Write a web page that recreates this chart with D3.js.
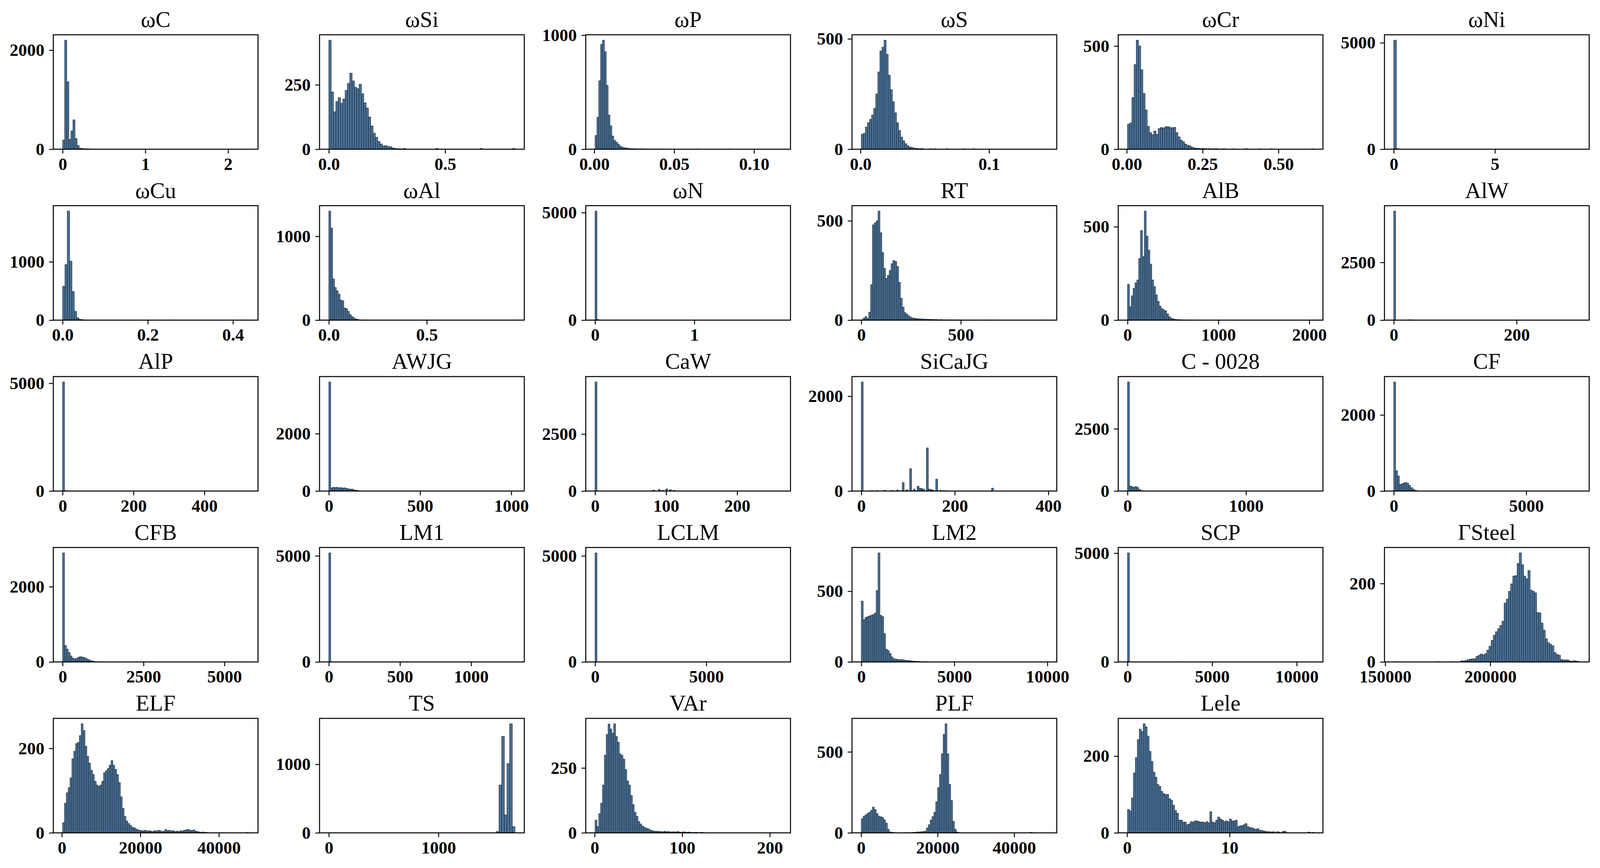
<!DOCTYPE html>
<html><head><meta charset="utf-8">
<script src="https://cdn.jsdelivr.net/npm/d3@7"></script>
<style>html,body{margin:0;padding:0;background:#fff;overflow:hidden;width:100%;height:100%;} svg{display:block;position:absolute;left:0;top:0;width:100vw;height:100vh;}</style>
</head><body>
<svg id="c" viewBox="0 0 4142 2222" preserveAspectRatio="none"></svg>
<script>
// ---------------- DATA ----------------
const titles = ["ωC","ωSi","ωP","ωS","ωCr","ωNi",
  "ωCu","ωAl","ωN","RT","AlB","AlW",
  "AlP","AWJG","CaW","SiCaJG","C - 0028","CF",
  "CFB","LM1","LCLM","LM2","SCP","ΓSteel",
  "ELF","TS","VAr","PLF","Lele"];

// data min / max of each variable and number of histogram bins
const binLo = [0,0,0.0005,0.0006,0.0026,0,
  0,0,0,0,0,0,
  0,0,0,0,0,0,
  0,0,0,0,0,154060,
  200,0,0.5,55,0.04];
const binHi = [2.25,0.8,0.117,0.1454,0.616,9.2,
  0.437,0.95,1.875,935,2048,303,
  525,1020,262,398,1570,7024,
  5750,1308,8365,10000,11000,242630,
  47600,1698,213,48700,18.2];
const binCount = [90,80,100,90,85,70,
  80,100,100,100,100,100,
  100,100,100,100,100,100,
  100,100,100,100,100,86,
  100,70,100,100,95];

// index of the first bin in each dense count list
const countStart = [0,0,0,0,0,0, 0,0,0,0,0,0, 0,0,0,0,0,0, 0,0,0,0,0,31, 0,0,0,0,0];

// dense bin counts (consecutive bins)
const counts = [
  [184,2200,1362,200,370,592,215,75,22,14,9,10,7,5,3,4,2,2],
  [423,222,145,185,200,178,195,228,255,295,265,240,235,252,215,180,160,125,90,62,46,30,20,13,14,10,10,5,3,2,2,1],
  [120,280,600,920,956,855,560,300,205,115,78,62,45,28,18,14,11,9,6,5,5,4,4,3,3,4,3,2,3,2,2,3,2,2,1,2,2,1,2,1,2,1,2],
  [68,72,100,120,135,155,185,250,350,445,462,494,430,335,270,215,165,120,85,55,38,25,16,10,8,5,4,3,3],
  [121,127,250,410,528,500,385,270,190,110,80,70,88,72,100,105,103,108,110,105,104,106,80,60,44,36,25,19,16,10,6,5,4,3,4,3,2,3,2,2,3,2,1,2,2],
  [5120,30,5],
  [580,950,1868,1010,490,150,40,15,8,4,2],
  [1300,1098,491,389,350,310,240,231,145,137,105,66,43,27,14,8,5,3,2,2,1],
  [5070,30,5],
  [2,10,18,8,40,178,480,490,500,549,440,340,260,210,225,250,284,300,295,270,190,110,65,38,30,22,15,11,10,8,7,6,6,5,5,4,4,4,3,3,3,2,3,2,2,2,1,2,1,1,2,1,1,1,0,1,1,0,1,0,1,0,0,1,0,0,0,1,0,1,1],
  [192,72,130,170,200,215,330,480,340,584,450,375,300,215,180,135,100,75,62,55,50,33,18,10,7,4,3,3,2,2,2,1,1,0,1],
  [4720],
  [5060,20],
  [3800,110,130,120,130,110,120,100,110,90,80,60,70,40,30,20,10,5,3,2],
  [4780],
  [2300],
  [4380,200,170,150,180,140,60,20,10,4,2],
  [2866,532,395,172,189,210,223,206,150,90,51,20,8,3,2],
  [2898,435,340,250,160,100,80,90,120,140,130,120,95,70,50,30,20,10,5,3,2],
  [5140,10],
  [5140],
  [430,300,315,320,325,330,335,345,505,771,330,320,200,90,80,60,35,23,20,18,15,17,15,12,10,10,8,6,5,5,4,3,2,2,1,1],
  [5010],
  [3,2,4,6,7,8,8,14,17,20,18,21,30,40,55,68,77,85,93,104,150,160,180,199,219,220,251,278,248,219,212,233,183,180,176,126,125,99,81,59,49,45,41,24,19,17,6,5,5,5,2,2,3,2,1],
  [24,70,95,107,130,175,193,211,214,230,258,242,205,181,165,148,138,122,113,110,113,122,142,147,152,160,171,160,150,138,119,85,58,39,28,22,18,13,12,9,7,6,5,5,6,4,5,4,3,5,4,6,5,3,4,8,5,6,4,5,3,4,3,5,4,6,7,8,6,5,7,4,3,2,1,2,1,1],
  [1],
  [49,24,74,114,184,299,379,419,400,384,420,371,349,304,299,284,244,200,184,144,109,79,64,44,34,26,21,18,16,11,9,7,6,6,5,5,4,6,4,5,3,4,4,3,5,3,2,4,3,2,3,2,1,2,2,1,1,2],
  [87,103,111,120,127,139,159,143,119,103,99,95,80,60,22,6,3,2,1,0,0,1,0,1,0,2,1,2,3,4,6,5,7,8,10,30,50,79,100,127,191,279,360,488,608,673,488,300,199,71,22,5,2],
  [61,57,91,156,196,243,270,264,284,276,252,212,186,158,145,126,121,108,102,100,100,89,85,72,58,51,33,33,28,28,21,23,29,28,31,31,29,28,28,26,29,26,55,28,26,33,41,36,33,29,31,29,36,31,31,33,16,18,19,21,24,16,14,13,11,9,11,7,6,5,4,3,3,2,3,0,3,2,0,4,4]
];

// isolated bins: [bin index, count]
const extraBins = [
  [[89,1]],
  [[32,3],[46,3],[65,3],[79,3]],
  [[54,2],[55,2],[66,2],[71,2],[72,2],[76,2],[96,2],[99,2]],
  [[29,3],[33,2],[35,2],[41,2],[49,2],[54,2],[62,1],[89,1]],
  [[48,2],[53,2],[54,2],[60,2],[65,2],[84,2]],
  [[69,1]],
  [[46,3],[79,1]],
  [[99,1]],
  [[99,1]],
  [[99,1]],
  [[99,1]],
  [[6,15],[8,20],[10,10],[99,1]],
  [[99,1]],
  [[99,1]],
  [[31,40],[34,70],[36,30],[38,90],[40,60],[42,30],[99,1]],
  [[5,8],[8,10],[12,15],[16,12],[19,20],[22,180],[24,25],[26,470],[28,40],[30,100],[31,60],[32,50],[33,40],[35,910],[36,40],[37,30],[38,20],[40,250],[42,15],[44,10],[46,5],[70,60],[99,1]],
  [[99,1]],
  [[99,1]],
  [[99,1]],
  [[99,1]],
  [[99,1]],
  [[99,1]],
  [[27,3],[99,1]],
  [[0,1],[20,1],[26,1]],
  [[99,1]],
  [[63,20],[64,697],[65,1407],[66,261],[67,1009],[68,1590],[69,91]],
  [[99,1]],
  [[90,2],[91,3],[93,1],[99,1]],
  [[92,2],[94,1]]
];

const xTickVals = [[0,1,2],[0,0.5],[0,0.05,0.10],[0,0.1],[0,0.25,0.5],[0,5],
  [0,0.2,0.4],[0,0.5],[0,1],[0,500],[0,1000,2000],[0,200],
  [0,200,400],[0,500,1000],[0,100,200],[0,200,400],[0,1000],[0,5000],
  [0,2500,5000],[0,500,1000],[0,5000],[0,5000,10000],[0,5000,10000],[150000,200000],
  [0,20000,40000],[0,1000],[0,100,200],[0,20000,40000],[0,10]];
const xTickText = [["0","1","2"],["0.0","0.5"],["0.00","0.05","0.10"],["0.0","0.1"],["0.00","0.25","0.50"],["0","5"],
  ["0.0","0.2","0.4"],["0.0","0.5"],["0","1"],["0","500"],["0","1000","2000"],["0","200"],
  ["0","200","400"],["0","500","1000"],["0","100","200"],["0","200","400"],["0","1000"],["0","5000"],
  ["0","2500","5000"],["0","500","1000"],["0","5000"],["0","5000","10000"],["0","5000","10000"],["150000","200000"],
  ["0","20000","40000"],["0","1000"],["0","100","200"],["0","20000","40000"],["0","10"]];
const yTickVals = [[0,2000],[0,250],[0,1000],[0,500],[0,500],[0,5000],
  [0,1000],[0,1000],[0,5000],[0,500],[0,500],[0,2500],
  [0,5000],[0,2000],[0,2500],[0,2000],[0,2500],[0,2000],
  [0,2000],[0,5000],[0,5000],[0,500],[0,5000],[0,200],
  [0,200],[0,1000],[0,250],[0,500],[0,200]];

// ---------------- DRAW ----------------
const svg = d3.select('#c');
svg.append('rect').attr('width',4142).attr('height',2222).attr('fill','#fff');
const colX0 = 138, colStep = 689.2, pw = 530;
const rowY0 = 89, rowStep = 437.5, ph = 293;
const FONT = "'Liberation Serif','Times New Roman',Times,serif";

titles.forEach((t,k)=>{
  const col = k % 6, row = Math.floor(k / 6);
  const g = svg.append('g').attr('transform',`translate(${colX0+col*colStep},${rowY0+row*rowStep})`);
  const lo = binLo[k], hi = binHi[k], n = binCount[k], w = (hi-lo)/n, R = hi-lo;
  const x = d3.scaleLinear().domain([lo-0.05*R, hi+0.05*R]).range([0,pw]);
  const bins = [];
  counts[k].forEach((c,i)=>{ if(c>0) bins.push([countStart[k]+i,c]); });
  extraBins[k].forEach(b=>bins.push(b));
  const ymax = d3.max(bins,b=>b[1]);
  const y = d3.scaleLinear().domain([0, ymax*1.05]).range([ph,0]);

  g.selectAll('rect.bar').data(bins).join('rect').attr('class','bar')
    .attr('x', d=>x(lo+d[0]*w))
    .attr('width', d=>x(lo+(d[0]+1)*w)-x(lo+d[0]*w))
    .attr('y', d=>y(d[1]))
    .attr('height', d=>y(0)-y(d[1]))
    .attr('fill','#4b7399')
    .attr('stroke','#1a2735')
    .attr('stroke-width',1.2);

  const xa = d3.axisBottom(x).tickValues(xTickVals[k])
    .tickFormat((d,i)=>xTickText[k][i]).tickSize(11).tickPadding(10).tickSizeOuter(0);
  const gx = g.append('g').attr('transform',`translate(0,${ph})`).call(xa);
  gx.select('.domain').remove();
  const ya = d3.axisLeft(y).tickValues(yTickVals[k]).tickFormat(d3.format('d'))
    .tickSize(11).tickPadding(12).tickSizeOuter(0);
  const gy = g.append('g').call(ya);
  gy.select('.domain').remove();
  [gx,gy].forEach(a=>{
    a.attr('font-family',FONT).attr('font-size',45).attr('font-weight','bold');
    a.selectAll('line').attr('stroke','#000').attr('stroke-width',2.4);
    a.selectAll('text').attr('fill','#000');
  });

  g.append('rect').attr('x',0).attr('y',0).attr('width',pw).attr('height',ph)
    .attr('fill','none').attr('stroke','#000').attr('stroke-width',2.6);

  g.append('text').attr('x',pw/2).attr('y',-20).attr('text-anchor','middle')
    .attr('font-family',FONT).attr('font-size',58).attr('fill','#000').text(t);
});
</script>
</body></html>
